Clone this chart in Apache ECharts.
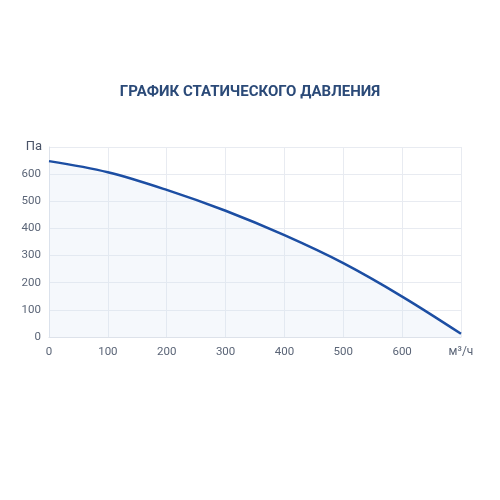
<!DOCTYPE html>
<html><head><meta charset="utf-8">
<script src="https://cdn.jsdelivr.net/npm/echarts@6/dist/echarts.min.js"></script>
<style>html,body{margin:0;padding:0;background:#fff}#c{width:500px;height:500px}</style>
</head><body><div id="c"></div>
<script>
const flow = [0, 100, 200, 300, 400, 500, 600, 700];
const pressure = [648, 607, 542, 465, 375, 272, 149, 12];
const titleText = 'ГРАФИК СТАТИЧЕСКОГО ДАВЛЕНИЯ';
const yName = 'Па';
const xName = 'м³/ч';

const chart = echarts.init(document.getElementById('c'), null, {renderer: 'canvas'});
chart.setOption({
  backgroundColor: '#ffffff',
  animation: false,
  title: {
    text: titleText, left: 'center', top: 80,
    textStyle: {fontFamily: 'Roboto', fontWeight: 'bold', fontSize: 15, color: '#2b4a78'}
  },
  grid: {left: 49, right: 39, top: 147, bottom: 163},
  xAxis: {
    type: 'value', min: 0, max: 700, interval: 100,
    name: xName, nameLocation: 'end', nameGap: 0,
    nameTextStyle: {fontFamily: 'Roboto', fontSize: 12, color: '#5b6577', align: 'center', verticalAlign: 'top', padding: [9, 0, 0, 0]},
    axisLine: {lineStyle: {color: '#dde2ea'}},
    axisTick: {show: false},
    axisLabel: {fontFamily: 'Roboto', fontSize: 11.5, color: '#5b6577', margin: 9, showMaxLabel: false},
    splitLine: {show: true, lineStyle: {color: '#e8ebf1'}}
  },
  yAxis: {
    type: 'value', min: 0, max: 700, interval: 100,
    name: yName, nameLocation: 'end', nameGap: 0,
    nameTextStyle: {fontFamily: 'Roboto', fontSize: 13, color: '#4a5468', align: 'right', verticalAlign: 'middle', padding: [0, 7, 0, 0]},
    axisLine: {show: true, lineStyle: {color: '#dde2ea'}},
    axisTick: {show: false},
    axisLabel: {fontFamily: 'Roboto', fontSize: 11.5, color: '#5b6577', margin: 8, showMaxLabel: false},
    splitLine: {show: true, lineStyle: {color: '#e8ebf1'}}
  },
  series: [{
    type: 'line', smooth: 0.35, symbol: 'none',
    data: flow.map((x, i) => [x, pressure[i]]),
    lineStyle: {color: '#1c4ea3', width: 2.5},
    areaStyle: {color: 'rgba(214,225,243,0.35)'}
  }]
});
</script></body></html>
